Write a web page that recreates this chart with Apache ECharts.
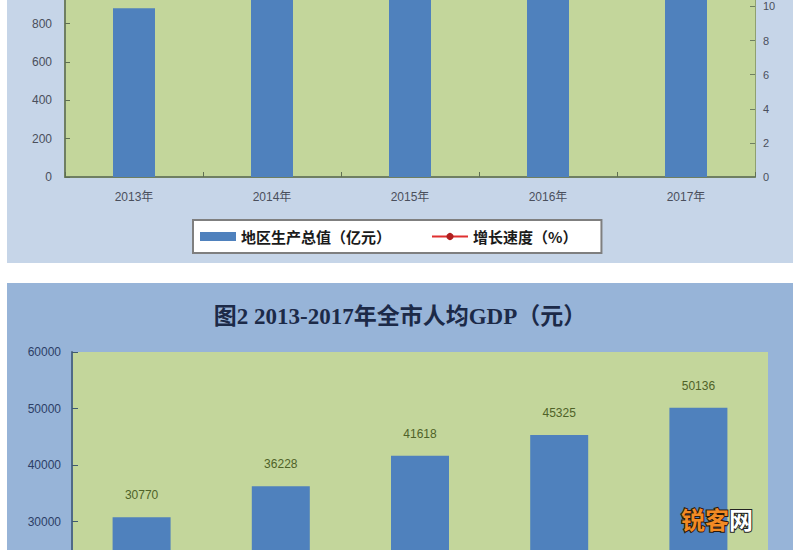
<!DOCTYPE html>
<html>
<head>
<meta charset="utf-8">
<script src="https://cdn.jsdelivr.net/npm/echarts@6/dist/echarts.min.js"></script>
<style>html,body{margin:0;padding:0;background:#fff;}#c{width:800px;height:550px;}</style>
</head>
<body>
<div id="c"></div>
<script>
// Chart 1: regional GDP (100 million yuan) and growth rate (%)
var years = ['2013年', '2014年', '2015年', '2016年', '2017年'];
var gdpValues = [880, 1010, 1120, 1240, 1370];
var growthValues = [13.0, 12.2, 11.5, 11.2, 11.0];
var gdpTicks = { min: 0, max: 1600, interval: 200, visibleMax: 800 };
var growthTicks = { min: 0, max: 18, interval: 2, visibleMax: 10 };
// Chart 2: per-capita GDP (yuan)
var perCapitaYears = ['2013年', '2014年', '2015年', '2016年', '2017年'];
var perCapitaValues = [30770, 36228, 41618, 45325, 50136];
var perCapitaTicks = { min: 0, max: 60000, interval: 10000, visibleMin: 30000 };
var title2 = '图2 2013-2017年全市人均GDP（元）';
var legendNames = ['地区生产总值（亿元）', '增长速度（%）'];

var chart = echarts.init(document.getElementById('c'), null, { renderer: 'svg' });
var green = '#c3d69b';
var barBlue = '#4f81bd';
var option = {
  animation: false,
  textStyle: { fontFamily: "'Liberation Sans', 'Noto Sans CJK SC', sans-serif" },
  title: {
    text: title2, left: 'center', top: 300,
    textStyle: { fontSize: 23, fontWeight: 'bold', color: '#1c2a48',
      fontFamily: "'Liberation Serif', 'Noto Sans CJK SC', serif" }
  },
  graphic: [
    { type: 'rect', z: -100, shape: { x: 7, y: 0, width: 786, height: 263 }, style: { fill: '#c6d5e8' } },
    { type: 'rect', z: -100, shape: { x: 7, y: 283, width: 786, height: 280 }, style: { fill: '#97b4d8' } },
    { type: 'text', z: 100, left: 680, top: 505, style: {
        text: '{o|锐客}{w|网}',
        rich: {
          o: { fontSize: 24, fontWeight: 'bold', fill: '#f28a24', stroke: '#2a1a08', lineWidth: 2, fontFamily: "'Noto Sans CJK SC'" },
          w: { fontSize: 24, fontWeight: 'bold', fill: '#ffffff', stroke: '#222222', lineWidth: 2, fontFamily: "'Noto Sans CJK SC'" }
        }
    } }
  ],
  legend: {
    data: [{ name: legendNames[0], icon: 'rect' }, { name: legendNames[1] }],
    left: 193, top: 220,
    orient: 'horizontal',
    itemWidth: 36, itemHeight: 9, itemGap: 40,
    padding: [9, 24, 9, 7],
    backgroundColor: '#ffffff',
    borderColor: '#7f7f7f', borderWidth: 2,
    textStyle: { fontSize: 15, fontWeight: 'bold', color: '#1a1a1a', fontFamily: "'Noto Sans CJK SC'" }
  },
  grid: [
    { left: 65, right: 45, top: -130, height: 307, show: true, backgroundColor: green, borderWidth: 0, outerBoundsMode: 'none', containLabel: false },
    { left: 72, right: 32, top: 352, height: 339, show: true, backgroundColor: green, borderWidth: 0, outerBoundsMode: 'none', containLabel: false }
  ],
  xAxis: [
    { type: 'category', gridIndex: 0, data: years,
      axisLine: { lineStyle: { color: '#6f7f62', width: 2 } },
      axisTick: { show: true, inside: true, length: 5, lineStyle: { color: '#5f6f52' } },
      axisLabel: { fontSize: 12, color: '#4a4f5c', margin: 14 } },
    { type: 'category', gridIndex: 1, data: perCapitaYears,
      axisLine: { lineStyle: { color: '#4f6a88', width: 2 } },
      axisTick: { show: false }, axisLabel: { show: false } }
  ],
  yAxis: [
    { type: 'value', gridIndex: 0, min: gdpTicks.min, max: gdpTicks.max, interval: gdpTicks.interval,
      splitLine: { show: false },
      axisLine: { show: true, lineStyle: { color: '#6f7f62', width: 2 } },
      axisTick: { show: true, inside: true, length: 5, lineStyle: { color: '#5f6f52' } },
      axisLabel: { fontSize: 12, color: '#4a4f5c', margin: 13,
        formatter: function (v) { return v <= gdpTicks.visibleMax ? String(v) : ''; } } },
    { type: 'value', gridIndex: 0, position: 'right', min: growthTicks.min, max: growthTicks.max, interval: growthTicks.interval,
      splitLine: { show: false },
      axisLine: { show: true, lineStyle: { color: '#8fa070', width: 1 } },
      axisTick: { show: true, inside: true, length: 5, lineStyle: { color: '#6f7f62' } },
      axisLabel: { fontSize: 11, color: '#4a4f5c', margin: 8,
        formatter: function (v) { return v <= growthTicks.visibleMax ? String(v) : ''; } } },
    { type: 'value', gridIndex: 1, min: perCapitaTicks.min, max: perCapitaTicks.max, interval: perCapitaTicks.interval,
      splitLine: { show: false },
      axisLine: { show: true, lineStyle: { color: '#4f6a88', width: 2 } },
      axisTick: { show: true, inside: true, length: 6, lineStyle: { color: '#3f5a70' } },
      axisLabel: { fontSize: 12, color: '#2c3e66', margin: 11,
        formatter: function (v) { return v >= perCapitaTicks.visibleMin ? String(v) : ''; } } }
  ],
  series: [
    { name: legendNames[0], type: 'bar', xAxisIndex: 0, yAxisIndex: 0, data: gdpValues,
      barWidth: 42, itemStyle: { color: barBlue } },
    { name: legendNames[1], type: 'line', xAxisIndex: 0, yAxisIndex: 1, data: growthValues,
      lineStyle: { color: '#e03030', width: 2 }, itemStyle: { color: '#b02020' },
      symbol: 'circle', symbolSize: 7 },
    { name: '人均GDP', type: 'bar', xAxisIndex: 1, yAxisIndex: 2, data: perCapitaValues,
      barWidth: 58, itemStyle: { color: barBlue },
      label: { show: true, position: 'top', distance: 16, fontSize: 12, color: '#4f6228' } }
  ]
};
chart.setOption(option);
</script>
</body>
</html>
